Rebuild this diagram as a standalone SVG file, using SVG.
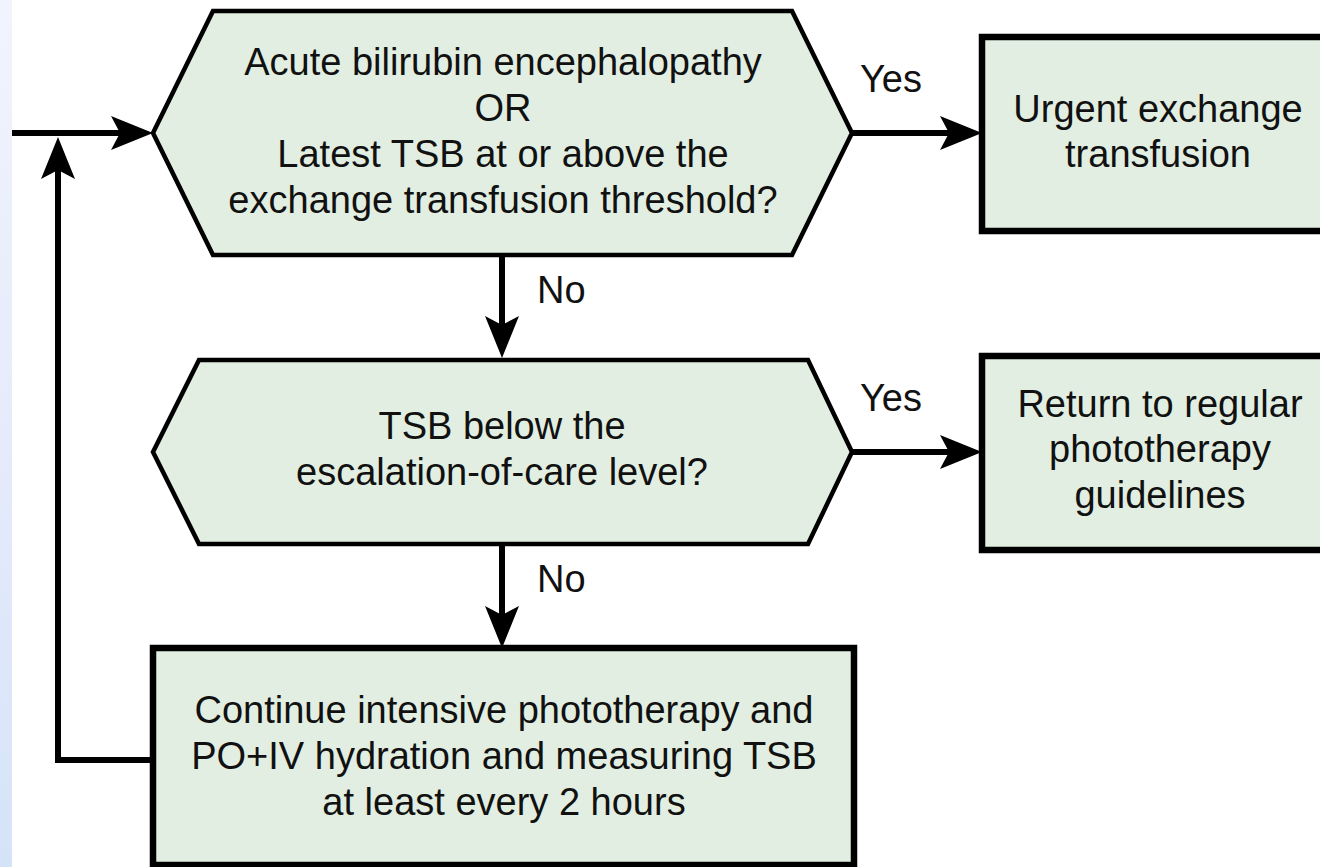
<svg xmlns="http://www.w3.org/2000/svg" width="1320" height="867" viewBox="0 0 1320 867">
  <defs>
    <linearGradient id="strip" x1="0" y1="0" x2="0" y2="1">
      <stop offset="0" stop-color="#f1f4fd"/>
      <stop offset="0.5" stop-color="#e6ebfb"/>
      <stop offset="1" stop-color="#d5e3f8"/>
    </linearGradient>
    <marker id="arrow" viewBox="0 0 42 34" refX="22" refY="17" markerWidth="42" markerHeight="34" markerUnits="userSpaceOnUse" orient="auto">
      <path d="M0,0 L42,17 L0,34 L9,17 Z" fill="#000"/>
    </marker>
    <style>
      .node { fill: #e1eee1; stroke: #000; }
      .hex { stroke-width: 4.5; stroke-linejoin: miter; }
      .box { stroke-width: 6.5; }
      .edge { fill: none; stroke: #000; stroke-width: 6; }
      .txt { font-family: "Liberation Sans", Arial, sans-serif; font-size: 38px; fill: #111; text-anchor: middle; }
      .lbl { font-family: "Liberation Sans", Arial, sans-serif; font-size: 38px; fill: #111; }
    </style>
  </defs>

  <rect x="0" y="0" width="1320" height="867" fill="#fff"/>
  <rect x="0" y="0" width="12" height="867" fill="url(#strip)"/>

  <g id="connectors">
    <path class="edge" d="M12,133 L133,133" marker-end="url(#arrow)"/>
    <path class="edge" d="M150,760 L58,760 L58,157" marker-end="url(#arrow)"/>
    <path class="edge" d="M852,133 L962,133" marker-end="url(#arrow)"/>
    <path class="edge" d="M852,452 L962,452" marker-end="url(#arrow)"/>
    <path class="edge" d="M502,255 L502,338" marker-end="url(#arrow)"/>
    <path class="edge" d="M502,544 L502,628" marker-end="url(#arrow)"/>
    <text class="lbl" x="860" y="92">Yes</text>
    <text class="lbl" x="860" y="411">Yes</text>
    <text class="lbl" x="537" y="303">No</text>
    <text class="lbl" x="537" y="592">No</text>
  </g>

  <g id="decision1">
    <polygon class="node hex" points="213,11 792,11 852,133 792,255 213,255 153,133"/>
    <text class="txt" x="503" y="75">Acute bilirubin encephalopathy</text>
    <text class="txt" x="503" y="121">OR</text>
    <text class="txt" x="503" y="167">Latest TSB at or above the</text>
    <text class="txt" x="503" y="213">exchange transfusion threshold?</text>
  </g>

  <g id="urgent">
    <rect class="node box" x="982" y="37" width="360" height="194"/>
    <text class="txt" x="1158" y="122">Urgent exchange</text>
    <text class="txt" x="1158" y="167">transfusion</text>
  </g>

  <g id="decision2">
    <polygon class="node hex" points="199,360 808,360 852,452 808,544 199,544 153,452"/>
    <text class="txt" x="502" y="439">TSB below the</text>
    <text class="txt" x="502" y="485">escalation-of-care level?</text>
  </g>

  <g id="return">
    <rect class="node box" x="982" y="356" width="360" height="194"/>
    <text class="txt" x="1160" y="417">Return to regular</text>
    <text class="txt" x="1160" y="462">phototherapy</text>
    <text class="txt" x="1160" y="508">guidelines</text>
  </g>

  <g id="continue">
    <rect class="node box" x="153" y="648" width="701" height="217"/>
    <text class="txt" x="504" y="723">Continue intensive phototherapy and</text>
    <text class="txt" x="504" y="769">PO+IV hydration and measuring TSB</text>
    <text class="txt" x="504" y="815">at least every 2 hours</text>
  </g>
</svg>
